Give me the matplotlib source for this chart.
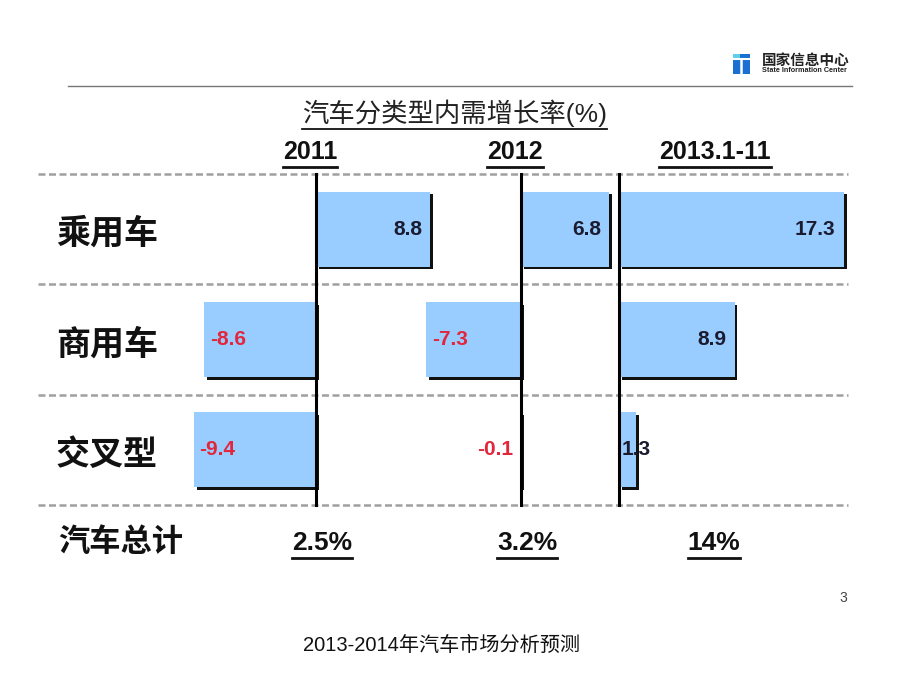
import matplotlib
matplotlib.use('Agg')
import matplotlib.pyplot as plt
import matplotlib.patheffects as pe
import matplotlib.transforms as mtransforms
from matplotlib.lines import Line2D
from matplotlib.patches import Rectangle

plt.rcParams['font.family'] = ['Liberation Sans', 'Noto Sans CJK SC', 'DejaVu Sans']

# data
categories = ['乘用车', '商用车', '交叉型']
periods = ['2011', '2012', '2013.1-11']
growth = {
    '2011': [8.8, -8.6, -9.4],
    '2012': [6.8, -7.3, -0.1],
    '2013.1-11': [17.3, 8.9, 1.3],
}
totals = ['2.5%', '3.2%', '14%']
total_label = '汽车总计'
title = '汽车分类型内需增长率(%)'
footer = '2013-2014年汽车市场分析预测'

W, H = 920, 690
fig = plt.figure(figsize=(W / 100, H / 100), dpi=100)


def fx(x):
    return x / W


def fy(y):
    return 1 - y / H


# layout (pixels)
left_px, right_px = 38, 848
top_px, bot_px = 174, 505
zero_px = [316, 521, 619]
header_x = [310, 515, 715]
total_x = [322, 527, 714]
px_per_unit = 13.0
bar_color = '#99ccff'
neg_color = '#e3263c'
pos_color = '#1b1b2f'

span_units = (right_px - left_px) / px_per_unit
underline = []

axes = []
for i, p in enumerate(periods):
    ax = fig.add_axes([fx(left_px), fy(bot_px), (right_px - left_px) / W,
                       (bot_px - top_px) / H])
    ax.set_facecolor('none')
    ax.axis('off')
    lo = -(zero_px[i] - left_px) / px_per_unit
    ax.set_xlim(lo, lo + span_units)
    ax.set_ylim(len(categories) - 0.5, -0.5)
    vals = growth[p]
    rows = list(range(len(categories)))
    ax.barh(rows, vals, height=0.68, color=bar_color, linewidth=0, zorder=2,
            path_effects=[pe.SimplePatchShadow(offset=(2, -2), shadow_rgbFace='#111111', alpha=1.0),
                          pe.Normal()])
    ax.axvline(0, color='black', lw=2.2, zorder=4, clip_on=False)
    for r, v in zip(rows, vals):
        if v >= 0:
            if v < 2:
                ax.annotate(f'{v:g}', (v, r), ha='center', va='center', fontsize=15,
                            fontweight='bold', color=pos_color, zorder=5)
            else:
                ax.annotate(f'{v:g}', (v, r), xytext=(-6, 0), textcoords='offset points',
                            ha='right', va='center', fontsize=15, fontweight='bold',
                            color=pos_color, zorder=5)
        else:
            if v > -1:
                ax.annotate(f'{v:g}', (v, r), xytext=(-5, 0), textcoords='offset points',
                            ha='right', va='center', fontsize=15, fontweight='bold',
                            color=neg_color, zorder=5)
            else:
                ax.annotate(f'{v:g}', (v, r), xytext=(4, 0), textcoords='offset points',
                            ha='left', va='center', fontsize=15, fontweight='bold',
                            color=neg_color, zorder=5)
    axes.append(ax)

# dashed separators
for b in [-0.5, 0.5, 1.5, 2.5]:
    axes[0].axhline(b, color='#a0a0a0', lw=1.8, linestyle=(0, (2.8, 1.4)), zorder=1,
                    clip_on=False)

# row labels
blend = mtransforms.blended_transform_factory(fig.transFigure, axes[0].transData)
for r, c in enumerate(categories):
    axes[0].text(fx(107), r + 0.05, c, transform=blend, ha='center', va='center',
                 fontsize=24.5, fontweight='bold', color='#111111')

fig.text(fx(121), fy(543), total_label, ha='center', va='center', fontsize=22.5,
         fontweight='bold', color='#111111')

# headers and totals
for x, p in zip(header_x, periods):
    t = fig.text(fx(x), fy(152), p, ha='center', va='center', fontsize=18,
                 fontweight='bold', color='#111111')
    underline.append((t, 3, 2.0))
for x, s in zip(total_x, totals):
    t = fig.text(fx(x), fy(543), s, ha='center', va='center', fontsize=19,
                 fontweight='bold', color='#111111')
    underline.append((t, 3, 2.0))

t = fig.text(fx(455), fy(113), title, ha='center', va='center', fontsize=19,
             color='#222222')
underline.append((t, 2, 1.3))

# top rule and logo
fig.add_artist(Line2D([fx(68), fx(852)], [fy(86), fy(86)], color='#777777', lw=1.0))
fig.add_artist(Rectangle((fx(733), fy(74)), 17 / W, 20 / H, color='#1a6fd1', lw=0))
fig.add_artist(Line2D([fx(733), fx(750)], [fy(59), fy(59)], color='white', lw=1.5))
fig.add_artist(Line2D([fx(741), fx(741)], [fy(59), fy(74)], color='white', lw=1.8))
fig.add_artist(Rectangle((fx(733), fy(58)), 7 / W, 4 / H, color='#5fd0e8', lw=0))
fig.text(fx(762), fy(61), '国家信息中心', ha='left', va='center', fontsize=10.5,
         fontweight='bold', color='#222222')
fig.text(fx(762), fy(71), 'State Information Center', ha='left', va='center',
         fontsize=5.2, fontweight='bold', color='#222222')

# page number and footer
fig.text(fx(843), fy(598), '3', ha='center', va='center', fontsize=10, color='#444444')
fig.text(fx(442), fy(645), footer, ha='center', va='center', fontsize=14.5, color='#111111')

# underlines
fig.canvas.draw()
renderer = fig.canvas.get_renderer()
for t, gap, lw in underline:
    bb = t.get_window_extent(renderer)
    y = (bb.y0 - gap) / H
    fig.add_artist(Line2D([bb.x0 / W, bb.x1 / W], [y, y], color='#111111', lw=lw))

fig.savefig('out.png', dpi=100, facecolor='white')
